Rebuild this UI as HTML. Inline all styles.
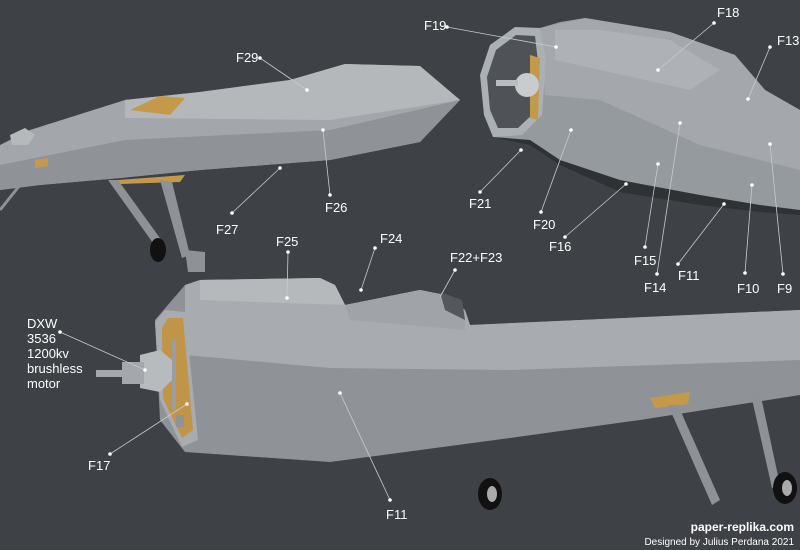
<!DOCTYPE html>
<html><head><meta charset="utf-8"><style>
body{margin:0;background:#3e4145;}
svg{display:block}
text{font-family:"Liberation Sans",sans-serif;fill:#fff;font-size:13px}
.l{stroke:#c8cbce;stroke-width:0.8;fill:none}
.d{fill:#fff}
</style></head><body>
<svg width="800" height="550" viewBox="0 0 800 550">
<rect width="800" height="550" fill="#3e4145"/>
<!-- top-left fuselage -->
<polygon points="0,145 30,130 125,100 200,92 290,80 345,64 420,66 460,100 420,142 330,160 200,170 120,178 40,185 0,190" fill="#a3a7ab"/>
<polygon points="0,165 125,140 330,130 460,100 420,142 330,160 200,170 120,178 40,185 0,190" fill="#8f9397"/>
<polygon points="125,100 200,92 290,80 345,64 420,66 460,100 330,120 125,118" fill="#b4b8bb"/>
<polygon points="130,110 160,96 185,98 170,115" fill="#c49a4a"/>
<polygon points="35,160 48,158 48,166 35,168" fill="#c49a4a"/>
<polygon points="118,180 185,175 180,182 120,184" fill="#c49a4a"/>
<polygon points="10,135 25,128 35,135 28,145 12,145" fill="#b5b9bc"/>
<line x1="20" y1="185" x2="0" y2="210" stroke="#8f9397" stroke-width="3"/>
<polygon points="108,180 118,180 165,245 158,250" fill="#8e9296"/>
<polygon points="160,180 172,182 190,255 182,258" fill="#8e9296"/>
<polygon points="185,250 205,252 205,272 188,272" fill="#8e9296"/>
<ellipse cx="158" cy="250" rx="8" ry="12" fill="#111"/>
<!-- top-right nacelle -->
<polygon points="540,28 560,22 585,18 670,32 735,55 765,90 800,110 800,215 760,212 700,205 620,192 560,165 530,145 493,137" fill="#2f3235"/>
<polygon points="540,28 560,22 585,18 670,32 735,55 765,90 800,110 800,210 760,205 700,195 620,180 560,160 530,140 493,137" fill="#959a9e"/>
<polygon points="540,28 585,18 670,32 735,55 765,90 800,110 800,170 700,145 600,100 545,95" fill="#a4a8ac"/>
<polygon points="555,30 600,30 670,40 720,70 690,90 600,70 555,60" fill="#aeb2b6"/>
<polygon points="490,45 515,27 540,28 546,60 542,115 522,135 493,137 484,115 480,75" fill="#aab0b4"/>
<polygon points="496,50 516,35 535,36 538,62 535,112 518,128 498,128 490,110 487,77" fill="#4f5357"/>
<polygon points="530,55 540,58 538,120 530,118" fill="#c49a4a"/>
<circle cx="527" cy="85" r="12" fill="#c9ccce"/>
<rect x="496" y="80" width="22" height="6" fill="#b9bcbf"/>
<!-- bottom fuselage -->
<polygon points="185,285 200,280 320,278 335,285 345,305 420,290 445,295 465,310 470,325 800,310 800,395 640,420 510,438 330,462 185,452 160,420 155,320" fill="#8f9397"/>
<polygon points="185,285 200,280 320,278 335,285 345,305 420,290 445,295 465,310 470,325 800,310 800,360 510,370 330,368 185,355" fill="#a8acb0"/>
<polygon points="200,280 320,278 335,285 345,305 200,300" fill="#b5b9bc"/>
<polygon points="345,305 420,290 445,295 465,310 465,330 350,320" fill="#a0a4a8"/>
<polygon points="440,292 462,300 465,320 445,310" fill="#54585c"/>
<polygon points="165,310 185,312 198,440 182,447 160,400 155,322" fill="#a8acb0"/>
<polygon points="168,318 183,318 193,430 182,438 163,398 162,328" fill="#c09548"/>
<rect x="172" y="340" width="4" height="70" fill="#9a9ea2"/>
<rect x="176" y="415" width="8" height="12" fill="#8f9397"/>
<polygon points="140,355 160,350 172,360 172,380 160,392 140,388" fill="#b7bbbe"/>
<rect x="122" y="362" width="22" height="22" fill="#a4a8ac"/>
<rect x="96" y="370" width="30" height="7" fill="#a4a8ac"/>
<polygon points="650,398 690,392 688,404 655,408" fill="#c49a4a"/>
<polygon points="668,405 678,405 720,500 712,505" fill="#8e9296"/>
<polygon points="750,390 760,392 780,485 772,488" fill="#8e9296"/>
<ellipse cx="490" cy="494" rx="12" ry="16" fill="#111"/><ellipse cx="492" cy="494" rx="5" ry="8" fill="#aaa"/>
<ellipse cx="785" cy="488" rx="12" ry="16" fill="#111"/><ellipse cx="787" cy="488" rx="5" ry="8" fill="#aaa"/>
<!-- leader lines -->
<g class="l">
<line x1="260" y1="58" x2="307" y2="90"/>
<line x1="280" y1="168" x2="232" y2="213"/>
<line x1="323" y1="130" x2="330" y2="195"/>
<line x1="447" y1="27" x2="556" y2="47"/>
<line x1="714" y1="23" x2="658" y2="70"/>
<line x1="770" y1="47" x2="748" y2="99"/>
<line x1="521" y1="150" x2="480" y2="192"/>
<line x1="571" y1="130" x2="541" y2="212"/>
<line x1="626" y1="184" x2="565" y2="237"/>
<line x1="658" y1="164" x2="645" y2="247"/>
<line x1="680" y1="123" x2="657" y2="274"/>
<line x1="724" y1="204" x2="678" y2="264"/>
<line x1="752" y1="185" x2="745" y2="273"/>
<line x1="770" y1="144" x2="783" y2="274"/>
<line x1="60" y1="332" x2="145" y2="370"/>
<line x1="187" y1="404" x2="110" y2="454"/>
<line x1="340" y1="393" x2="390" y2="500"/>
<line x1="288" y1="252" x2="287" y2="298"/>
<line x1="375" y1="248" x2="361" y2="290"/>
<line x1="455" y1="270" x2="440" y2="297"/>
</g>
<g class="d">
<circle cx="260" cy="58" r="1.8"/><circle cx="307" cy="90" r="1.8"/><circle cx="280" cy="168" r="1.8"/><circle cx="232" cy="213" r="1.8"/><circle cx="323" cy="130" r="1.8"/><circle cx="330" cy="195" r="1.8"/>
<circle cx="447" cy="27" r="1.8"/><circle cx="556" cy="47" r="1.8"/><circle cx="714" cy="23" r="1.8"/><circle cx="658" cy="70" r="1.8"/><circle cx="770" cy="47" r="1.8"/><circle cx="748" cy="99" r="1.8"/>
<circle cx="521" cy="150" r="1.8"/><circle cx="480" cy="192" r="1.8"/><circle cx="571" cy="130" r="1.8"/><circle cx="541" cy="212" r="1.8"/><circle cx="626" cy="184" r="1.8"/><circle cx="565" cy="237" r="1.8"/>
<circle cx="658" cy="164" r="1.8"/><circle cx="645" cy="247" r="1.8"/><circle cx="680" cy="123" r="1.8"/><circle cx="657" cy="274" r="1.8"/><circle cx="724" cy="204" r="1.8"/><circle cx="678" cy="264" r="1.8"/>
<circle cx="752" cy="185" r="1.8"/><circle cx="745" cy="273" r="1.8"/><circle cx="770" cy="144" r="1.8"/><circle cx="783" cy="274" r="1.8"/>
<circle cx="60" cy="332" r="1.8"/><circle cx="145" cy="370" r="1.8"/><circle cx="187" cy="404" r="1.8"/><circle cx="110" cy="454" r="1.8"/><circle cx="340" cy="393" r="1.8"/><circle cx="390" cy="500" r="1.8"/>
<circle cx="288" cy="252" r="1.8"/><circle cx="287" cy="298" r="1.8"/><circle cx="375" cy="248" r="1.8"/><circle cx="361" cy="290" r="1.8"/><circle cx="455" cy="270" r="1.8"/>
</g>
<text x="236" y="62">F29</text>
<text x="325" y="212">F26</text>
<text x="216" y="234">F27</text>
<text x="424" y="30">F19</text>
<text x="717" y="17">F18</text>
<text x="777" y="45">F13</text>
<text x="469" y="208">F21</text>
<text x="533" y="229">F20</text>
<text x="549" y="251">F16</text>
<text x="634" y="265">F15</text>
<text x="644" y="292">F14</text>
<text x="678" y="280">F11</text>
<text x="737" y="293">F10</text>
<text x="777" y="293">F9</text>
<text x="276" y="246">F25</text>
<text x="380" y="243">F24</text>
<text x="450" y="262">F22+F23</text>
<text x="27" y="328">DXW</text>
<text x="27" y="343">3536</text>
<text x="27" y="358">1200kv</text>
<text x="27" y="373">brushless</text>
<text x="27" y="388">motor</text>
<text x="88" y="470">F17</text>
<text x="386" y="519">F11</text>
<text x="794" y="531" text-anchor="end" style="font-weight:bold;font-size:12px">paper-replika.com</text>
<text x="794" y="545" text-anchor="end" style="font-size:10px">Designed by Julius Perdana 2021</text>
</svg>
</body></html>
